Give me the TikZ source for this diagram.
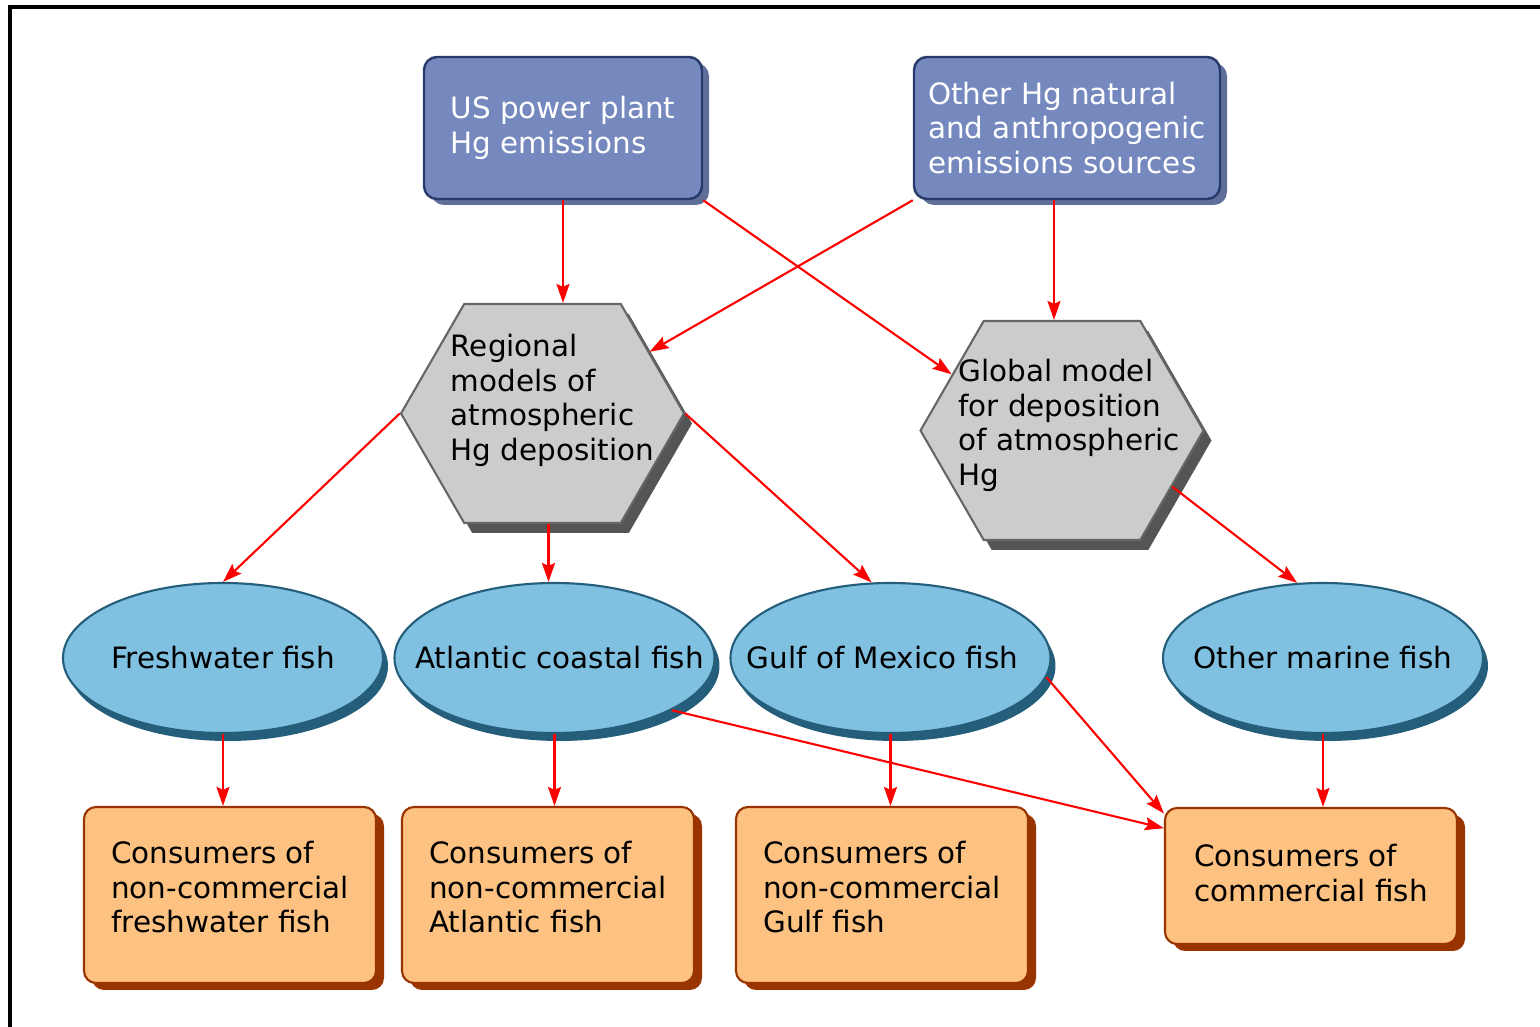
\documentclass[tikz,border=0pt]{standalone}
\usepackage{fontspec}
\setmainfont{DejaVu Sans}
\usetikzlibrary{shapes.geometric,shapes.symbols,shadows,arrows.meta}

\definecolor{srcfill}{RGB}{117,137,191}
\definecolor{srcedge}{RGB}{40,59,107}
\definecolor{srcshade}{RGB}{95,111,153}
\definecolor{hexfill}{RGB}{204,204,204}
\definecolor{hexedge}{RGB}{102,102,102}
\definecolor{hexshade}{RGB}{85,85,85}
\definecolor{fishfill}{RGB}{128,192,224}
\definecolor{fishedge}{RGB}{36,94,122}
\definecolor{consfill}{RGB}{253,194,129}
\definecolor{consedge}{RGB}{153,51,0}

\begin{document}
\begin{tikzpicture}[>={Stealth[length=0.19cm,width=0.13cm,inset=0.03cm]},
  font=\fontsize{8.37}{9.87}\selectfont,
  srcbox/.style={draw=srcedge,fill=srcfill,text=white,line width=0.7pt,
    rounded corners=0.13cm,minimum width=2.78cm,minimum height=1.42cm,
    align=left,inner sep=0pt,
    drop shadow={shadow xshift=0.07cm,shadow yshift=-0.06cm,opacity=1,fill=srcshade}},
  hexnode/.style={signal,signal to=east and west,signal pointer angle=120,
    draw=hexedge,fill=hexfill,line width=0.6pt,
    minimum width=2.83cm,minimum height=2.19cm,inner sep=0pt,
    drop shadow={shadow xshift=0.08cm,shadow yshift=-0.10cm,opacity=1,fill=hexshade}},
  fishnode/.style={ellipse,draw=fishedge,fill=fishfill,line width=0.6pt,
    minimum width=3.20cm,minimum height=1.50cm,inner sep=0pt,
    drop shadow={shadow xshift=0.05cm,shadow yshift=-0.08cm,opacity=1,fill=fishedge}},
  consbox/.style={draw=consedge,fill=consfill,line width=0.6pt,
    rounded corners=0.12cm,minimum width=2.92cm,minimum height=1.76cm,
    align=left,inner sep=0pt,text depth=0.16cm,
    drop shadow={shadow xshift=0.08cm,shadow yshift=-0.07cm,opacity=1,fill=consedge}},
  arr/.style={->,red,line width=0.6pt}]

\useasboundingbox (0,0) rectangle (15.40,10.27);
\draw[line width=0.9pt] (0.10,0)--(0.10,10.20)--(15.40,10.20);

\node[srcbox] (us) at (5.63,8.99) {US power plant\\Hg emissions};
\node[srcbox,minimum width=3.06cm] (other) at (10.67,8.99)
  {Other Hg natural\\and anthropogenic\\emissions sources};

\node[hexnode,label={[align=left,xshift=0.10cm,yshift=0.13cm]center:Regional\\models of\\atmospheric\\Hg deposition}]
  (regional) at (5.425,6.135) {};
\node[hexnode,label={[align=left,xshift=0.07cm,yshift=0.05cm]center:Global model\\for deposition\\of atmospheric\\Hg}]
  (global) at (10.62,5.965) {};

\node[fishnode] (fresh) at (2.23,3.69) {\makebox[0pt]{Freshwater fish}};
\node[fishnode] (atlantic) at (5.545,3.69) {\makebox[0pt]{\hspace{0.1cm}Atlantic coastal fish}};
\node[fishnode] (gulf) at (8.905,3.69) {\makebox[0pt]{Gulf of Mexico fish\hspace{0.16cm}}};
\node[fishnode] (marine) at (13.23,3.69) {\makebox[0pt]{Other marine fish}};

\node[consbox] (freshcons) at (2.30,1.32) {Consumers of\\non-commercial\\freshwater fish};
\node[consbox] (atlcons) at (5.48,1.32) {Consumers of\\non-commercial\\Atlantic fish};
\node[consbox] (gulfcons) at (8.82,1.32) {Consumers of\\non-commercial\\Gulf fish};
\node[consbox,minimum height=1.36cm,text depth=0.06cm] (comcons) at (13.11,1.51) {Consumers of\\commercial fish};

\draw[arr] (us.south) -- (us.south |- regional.north);
\draw[arr] (other.south west) -- (regional);
\draw[arr] (us.south east) -- (global.153);
\draw[arr] ([xshift=-0.08cm]global.north |- other.south) -- ([xshift=-0.08cm]global.north);

\draw[arr] (regional.west) -- (fresh.north);
\draw[arr] ([xshift=0.06cm]regional.south) -- ([xshift=0.06cm]regional.south |- atlantic.north);
\draw[arr] (regional.east) -- (gulf.104);
\draw[arr] (global.-27) -- (marine.109);

\draw[arr] (fresh.south) -- (fresh.south |- freshcons.north);
\draw[arr] (atlantic.south) -- (atlantic.south |- atlcons.north);
\draw[arr] (gulf.south) -- (gulf.south |- gulfcons.north);
\draw[arr] (marine.south) -- (marine.south |- comcons.north);
\draw[arr] (atlantic.-24) -- (comcons.162);
\draw[arr] (gulf.-7) -- (comcons.157);

\end{tikzpicture}
\end{document}
